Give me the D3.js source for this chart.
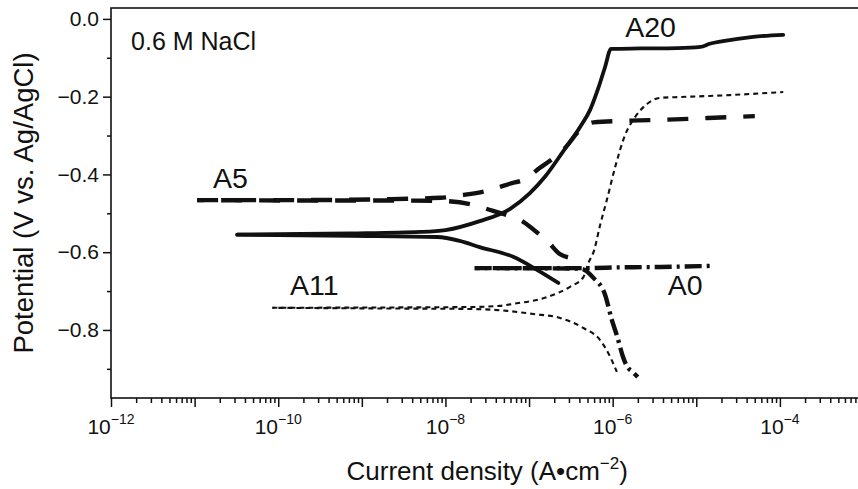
<!DOCTYPE html>
<html>
<head>
<meta charset="utf-8">
<script src="https://cdn.jsdelivr.net/npm/d3@7"></script>
<style>
  html, body { margin: 0; padding: 0; background: #fff; }
  svg { display: block; font-family: "Liberation Sans", Arial, Helvetica, sans-serif; }
</style>
</head>
<body>
<svg id="chart" width="858" height="489"></svg>
<script>
// Potentiodynamic polarization curves in 0.6 M NaCl.
// Each curve: log10 of current density (A/cm^2) and potential (V vs. Ag/AgCl),
// split into the cathodic and anodic branches, both starting at the corrosion potential.

const a20CathLogI = [-10.49, -9.14, -8.10, -7.83, -7.59, -7.19, -6.90, -6.65];
const a20CathE    = [-0.555, -0.558, -0.561, -0.571, -0.587, -0.612, -0.646, -0.679];
const a20AnodLogI = [-10.49, -9.14, -8.30, -8.00, -7.59, -7.23, -6.99, -6.81, -6.59, -6.39, -6.27,
                     -6.17, -6.09, -6.02, -5.67, -5.23, -4.95, -4.84, -4.68, -4.32, -3.96];
const a20AnodE    = [-0.555, -0.552, -0.548, -0.543, -0.520, -0.489, -0.448, -0.406, -0.340, -0.278, -0.234,
                     -0.177, -0.123, -0.077, -0.076, -0.075, -0.072, -0.064, -0.057, -0.046, -0.041];

const a5CathLogI  = [-10.97, -9.74, -8.78, -8.06, -7.67, -7.43, -7.23, -7.07, -6.90, -6.77, -6.63, -6.44];
const a5CathE     = [-0.466, -0.467, -0.467, -0.468, -0.478, -0.494, -0.507, -0.522, -0.550, -0.574, -0.605, -0.617];
const a5AnodLogI  = [-10.97, -9.74, -8.78, -8.06, -7.79, -7.50, -7.23, -7.05, -6.87, -6.75, -6.57, -6.39,
                     -6.23, -5.83, -5.34, -4.86, -4.30];
const a5AnodE     = [-0.466, -0.466, -0.464, -0.460, -0.453, -0.442, -0.424, -0.412, -0.383, -0.365, -0.332, -0.286,
                     -0.266, -0.262, -0.259, -0.255, -0.250];

const a11CathLogI = [-10.07, -8.54, -7.71, -7.26, -6.95, -6.63, -6.35, -6.15, -6.03, -5.95];
const a11CathE    = [-0.743, -0.745, -0.746, -0.751, -0.759, -0.769, -0.795, -0.826, -0.869, -0.908];
const a11AnodLogI = [-10.07, -8.54, -7.71, -7.35, -7.19, -6.78, -6.51, -6.35, -6.29, -6.22, -6.15, -6.07,
                     -5.97, -5.85, -5.73, -5.59, -5.43, -5.19, -4.60, -3.96];
const a11AnodE    = [-0.743, -0.742, -0.741, -0.738, -0.733, -0.715, -0.689, -0.664, -0.628, -0.594, -0.530, -0.466,
                     -0.381, -0.298, -0.252, -0.219, -0.203, -0.201, -0.196, -0.188];

const a0CathLogI  = [-7.65, -6.51, -6.37, -6.23, -6.09, -6.01, -5.94, -5.88, -5.83, -5.76, -5.70];
const a0CathE     = [-0.641, -0.642, -0.643, -0.666, -0.710, -0.774, -0.821, -0.867, -0.893, -0.908, -0.921];
const a0AnodLogI  = [-7.65, -6.33, -5.91, -5.43, -4.80];
const a0AnodE     = [-0.641, -0.641, -0.639, -0.638, -0.635];

const sampleNames = ["A20", "A5", "A11", "A0"];
const xMajorExponents = [-12, -11, -10, -9, -8, -7, -6, -5, -4, -3];
const xLabelExponents = [-12, -10, -8, -6, -4];
const yMajorTicks = [0, -0.2, -0.4, -0.6, -0.8];
const yMinorTicks = [-0.1, -0.3, -0.5, -0.7, -0.9];

// ---- layout ----
const svg = d3.select("#chart");
const margin = { left: 111, top: 8 };
const plotW = 752.5, plotH = 390;

const x = d3.scaleLog().domain([1e-12, 1e-3]).range([margin.left, margin.left + plotW]);
const y = d3.scaleLinear().domain([-0.975, 0.028]).range([margin.top + plotH, margin.top]);

const ink = "#111";
const MINUS = "\u2212";

// ---- curves ----
const toPoints = (logI, E) => logI.map((l, i) => [Math.pow(10, l), E[i]]);

// the cathodic branch gets a shifted dash phase so the overlapping
// stretch near the corrosion potential reads as a denser dash
const seriesStyles = {
  A20: { width: 3.8, dash: null,       offset: 0 },
  A5:  { width: 4.4, dash: "21,17",    offset: 14 },
  A11: { width: 2.1, dash: "5,4",      offset: 3 },
  A0:  { width: 4.4, dash: "17,5,3,5", offset: 12 }
};

const series = [
  { name: sampleNames[2], cath: toPoints(a11CathLogI, a11CathE), anod: toPoints(a11AnodLogI, a11AnodE) },
  { name: sampleNames[3], cath: toPoints(a0CathLogI, a0CathE),   anod: toPoints(a0AnodLogI, a0AnodE) },
  { name: sampleNames[1], cath: toPoints(a5CathLogI, a5CathE),   anod: toPoints(a5AnodLogI, a5AnodE) },
  { name: sampleNames[0], cath: toPoints(a20CathLogI, a20CathE), anod: toPoints(a20AnodLogI, a20AnodE) }
];

const line = d3.line()
  .x(d => x(d[0]))
  .y(d => y(d[1]))
  .curve(d3.curveMonotoneX);

const curves = svg.append("g").attr("fill", "none").attr("stroke", ink);
series.forEach(s => {
  const st = seriesStyles[s.name];
  [[s.cath, st.offset], [s.anod, 0]].forEach(([pts, off]) => {
    curves.append("path")
      .attr("d", line(pts))
      .attr("stroke-width", st.width)
      .attr("stroke-dasharray", st.dash)
      .attr("stroke-dashoffset", off)
      .attr("stroke-linejoin", "round")
      .attr("stroke-linecap", st.dash ? "butt" : "round");
  });
});

// ---- frame ----
svg.append("rect")
  .attr("x", margin.left).attr("y", margin.top)
  .attr("width", plotW).attr("height", plotH)
  .attr("fill", "none").attr("stroke", ink).attr("stroke-width", 1.6);

// ---- x axis ----
const xMajor = xMajorExponents.map(k => Math.pow(10, k));
const xMinor = [];
xMajorExponents.slice(0, -1).forEach(k => { for (let m = 2; m <= 9; m++) xMinor.push(m * Math.pow(10, k)); });

const gx = svg.append("g").attr("transform", `translate(0,${margin.top + plotH})`);
gx.call(d3.axisBottom(x).tickValues(xMajor).tickSize(9).tickSizeOuter(0).tickFormat(""));
const gxm = svg.append("g").attr("transform", `translate(0,${margin.top + plotH})`);
gxm.call(d3.axisBottom(x).tickValues(xMinor).tickSize(5).tickSizeOuter(0).tickFormat(""));
[gx, gxm].forEach(g => {
  g.select(".domain").remove();
  g.selectAll(".tick line").attr("stroke", ink).attr("stroke-width", 1.5);
});

const xLabels = svg.append("g").attr("fill", ink).attr("text-anchor", "middle");
xLabelExponents.forEach(k => {
  const t = xLabels.append("text")
    .attr("x", x(Math.pow(10, k)))
    .attr("y", 434)
    .attr("font-size", 21);
  t.append("tspan").text("10");
  t.append("tspan").attr("dy", -10).attr("font-size", 14).text(MINUS + Math.abs(k));
});

// ---- y axis ----
const gy = svg.append("g").attr("transform", `translate(${margin.left},0)`);
gy.call(d3.axisLeft(y).tickValues(yMajorTicks).tickSize(8).tickSizeOuter(0).tickPadding(4)
  .tickFormat(v => (v < 0 ? MINUS : "") + Math.abs(v).toFixed(1)));
const gym = svg.append("g").attr("transform", `translate(${margin.left},0)`);
gym.call(d3.axisLeft(y).tickValues(yMinorTicks).tickSize(4).tickSizeOuter(0).tickFormat(""));
[gy, gym].forEach(g => {
  g.select(".domain").remove();
  g.selectAll(".tick line").attr("stroke", ink).attr("stroke-width", 1.5);
});
gy.selectAll(".tick text")
  .attr("fill", ink)
  .attr("font-size", 21)
  .attr("font-family", "Liberation Sans, Arial, sans-serif");

// ---- axis titles ----
const xt = svg.append("text")
  .attr("x", margin.left + plotW / 2)
  .attr("y", 480)
  .attr("text-anchor", "middle")
  .attr("font-size", 26)
  .attr("fill", ink);
xt.append("tspan").text("Current density (A\u2022cm");
xt.append("tspan").attr("dy", -11).attr("font-size", 17).text(MINUS + "2");
xt.append("tspan").attr("dy", 11).text(")");

svg.append("text")
  .attr("transform", `translate(33,${margin.top + plotH / 2}) rotate(-90)`)
  .attr("text-anchor", "middle")
  .attr("font-size", 27.5)
  .attr("fill", ink)
  .text("Potential (V vs. Ag/AgCl)");

// ---- annotations (anchored in data coordinates) ----
const annotations = [
  { text: "0.6 M NaCl", logI: -11.76, E: -0.080, size: 25 },
  { text: sampleNames[0], logI: -5.85, E: -0.046, size: 28.5 },
  { text: sampleNames[1], logI: -10.78, E: -0.435, size: 28.5 },
  { text: sampleNames[2], logI: -9.86, E: -0.710, size: 28.5 },
  { text: sampleNames[3], logI: -5.34, E: -0.710, size: 28.5 }
];
svg.append("g").selectAll("text").data(annotations).join("text")
  .attr("x", d => x(Math.pow(10, d.logI)))
  .attr("y", d => y(d.E))
  .attr("font-size", d => d.size)
  .attr("fill", ink)
  .text(d => d.text);
</script>
</body>
</html>
